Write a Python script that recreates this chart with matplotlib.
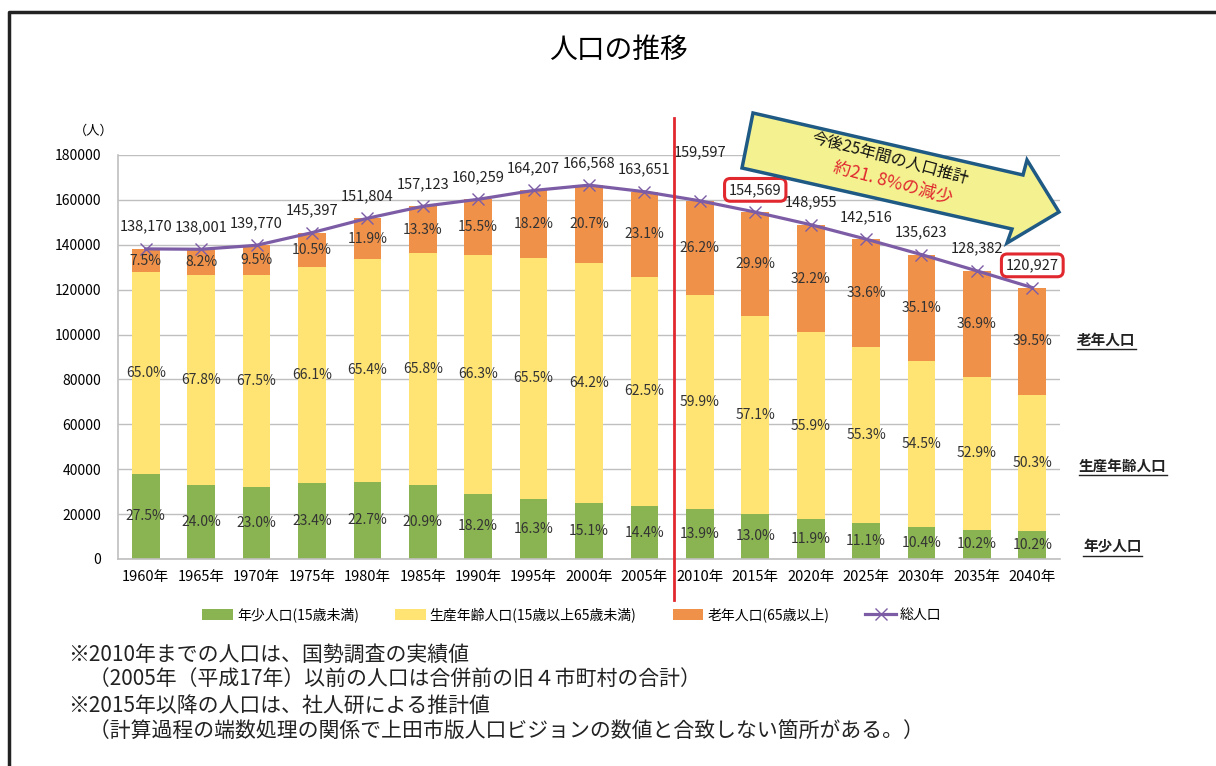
import matplotlib
matplotlib.use("Agg")
import matplotlib.pyplot as plt
import numpy as np
from matplotlib.patches import Polygon
from matplotlib.lines import Line2D

plt.rcParams['font.family'] = ['Noto Sans CJK JP', 'DejaVu Sans']

years = ["1960年", "1965年", "1970年", "1975年", "1980年", "1985年", "1990年", "1995年", "2000年",
         "2005年", "2010年", "2015年", "2020年", "2025年", "2030年", "2035年", "2040年"]
total = [138170, 138001, 139770, 145397, 151804, 157123, 160259, 164207, 166568,
         163651, 159597, 154569, 148955, 142516, 135623, 128382, 120927]
young_pct = [27.5, 24.0, 23.0, 23.4, 22.7, 20.9, 18.2, 16.3, 15.1,
             14.4, 13.9, 13.0, 11.9, 11.1, 10.4, 10.2, 10.2]
working_pct = [65.0, 67.8, 67.5, 66.1, 65.4, 65.8, 66.3, 65.5, 64.2,
               62.5, 59.9, 57.1, 55.9, 55.3, 54.5, 52.9, 50.3]
old_pct = [7.5, 8.2, 9.5, 10.5, 11.9, 13.3, 15.5, 18.2, 20.7,
           23.1, 26.2, 29.9, 32.2, 33.6, 35.1, 36.9, 39.5]
yticks = [0, 20000, 40000, 60000, 80000, 100000, 120000, 140000, 160000, 180000]

c_young = "#8AB452"
c_work = "#FFE373"
c_old = "#F0914A"
c_line = "#7D5CA6"

W, H = 1216, 766
fig = plt.figure(figsize=(W / 100, H / 100), dpi=100)
ax = fig.add_axes([118 / W, 1 - 559 / H, 942 / W, 404 / H])

x = np.arange(len(years))
tot = np.array(total, dtype=float)
young = tot * np.array(young_pct) / 100
work = tot * np.array(working_pct) / 100
old = tot * np.array(old_pct) / 100

ax.bar(x, young, width=0.5, color=c_young, zorder=2, label="年少人口(15歳未満)")
ax.bar(x, work, width=0.5, bottom=young, color=c_work, zorder=2, label="生産年齢人口(15歳以上65歳未満)")
ax.bar(x, old, width=0.5, bottom=young + work, color=c_old, zorder=2, label="老年人口(65歳以上)")
ax.plot(x, tot, color=c_line, lw=2.3, marker="x", markersize=8, markeredgewidth=1.0,
        zorder=4, label="総人口")

# percentage labels in the middle of each segment
for i in range(len(x)):
    ax.text(x[i], young[i] / 2, f"{young_pct[i]:.1f}%", ha="center", va="center",
            fontsize=10, color="#333333", zorder=5)
    ax.text(x[i], young[i] + work[i] / 2, f"{working_pct[i]:.1f}%", ha="center", va="center",
            fontsize=10, color="#333333", zorder=5)
    ax.text(x[i], young[i] + work[i] + old[i] / 2, f"{old_pct[i]:.1f}%", ha="center", va="center",
            fontsize=10, color="#333333", zorder=5)

# totals above the line
for i in range(len(x)):
    off = 35 if i == 10 else 16
    bbox = None
    if i in (11, 16):
        bbox = dict(boxstyle="round,pad=0.3,rounding_size=0.4", fc="white", ec="#E0282E", lw=2.2)
    ax.annotate(f"{total[i]:,}", (x[i], tot[i]), xytext=(0, off), textcoords="offset points",
                ha="center", va="center", fontsize=10.5, color="#222222", bbox=bbox, zorder=6)

ax.set_xlim(-0.5, len(x) - 0.5)
ax.set_ylim(0, 180000)
ax.set_yticks(yticks)
ax.set_yticklabels([str(v) for v in yticks], fontsize=10)
ax.set_xticks(x)
ax.set_xticklabels(years, fontsize=10.5)
ax.tick_params(length=0, pad=8)
ax.tick_params(axis="y", pad=12)
ax.grid(axis="y", color="#BFBFBF", lw=1.0, zorder=0)
for s in ["top", "right"]:
    ax.spines[s].set_visible(False)
for s in ["left", "bottom"]:
    ax.spines[s].set_color("#BFBFBF")
    ax.spines[s].set_linewidth(1.2)

# red divider between 2005 and 2010
fig.add_artist(Line2D([674 / W, 674 / W], [1 - 118 / H, 1 - 600 / H], color="#E0282E", lw=2))

# frame
fig.add_artist(Line2D([9 / W, 9 / W, 1.0], [0.0, 1 - 12 / H, 1 - 12 / H], color="#222222", lw=2.5))

fig.text(618 / W, 1 - 50 / H, "人口の推移", ha="center", va="center", fontsize=20)
fig.text(94 / W, 1 - 131 / H, "（人）", ha="center", va="center", fontsize=9.5)

# big arrow
pts = [(753, 113), (1023, 175), (1027, 160), (1059, 212), (1007, 243), (1012, 229), (742, 168)]
arrow = Polygon([(px / W, 1 - py / H) for px, py in pts], closed=True, fc="#F4F191",
                ec="#1F5A85", lw=2.5, transform=fig.transFigure, zorder=10)
fig.add_artist(arrow)
fig.text(890 / W, 1 - 158 / H, "今後25年間の人口推計", ha="center", va="center", fontsize=11.5,
         rotation=-15, color="#111111", zorder=11)
fig.text(893 / W, 1 - 183 / H, "約21. 8%の減少", ha="center", va="center", fontsize=12.5,
         rotation=-15, color="#E0282E", zorder=11)

# right-side labels with underline
side = [("老年人口", 1077, 340), ("生産年齢人口", 1079, 466), ("年少人口", 1083, 547)]
side_texts = []
for s, px, py in side:
    side_texts.append(fig.text(px / W, 1 - py / H, s, ha="left", va="center", fontsize=10.5,
                               fontweight="bold", color="#222222"))

h, l = ax.get_legend_handles_labels()
order = [1, 2, 3, 0]
fig.legend([h[k] for k in order], [l[k] for k in order], loc="center",
           bbox_to_anchor=(572 / W, 1 - 615 / H), ncol=4, frameon=False,
           fontsize=10, handlelength=2.2, handleheight=0.8, columnspacing=2.6, handletextpad=0.3)

notes = ["※2010年までの人口は、国勢調査の実績値",
         "　（2005年（平成17年）以前の人口は合併前の旧４市町村の合計）",
         "※2015年以降の人口は、社人研による推計値",
         "　（計算過程の端数処理の関係で上田市版人口ビジョンの数値と合致しない箇所がある。）"]
note_y = [655, 680, 706, 732]
for t, py in zip(notes, note_y):
    fig.text(68 / W, 1 - py / H, t, ha="left", va="center", fontsize=15, color="#222222")

fig.canvas.draw()
r = fig.canvas.get_renderer()
for t in side_texts:
    bb = t.get_window_extent(r)
    yl = bb.y0 - 1
    fig.add_artist(Line2D([bb.x0 / W, bb.x1 / W], [yl / H, yl / H], color="#222222", lw=1.0))

fig.savefig("out.png", dpi=100)
